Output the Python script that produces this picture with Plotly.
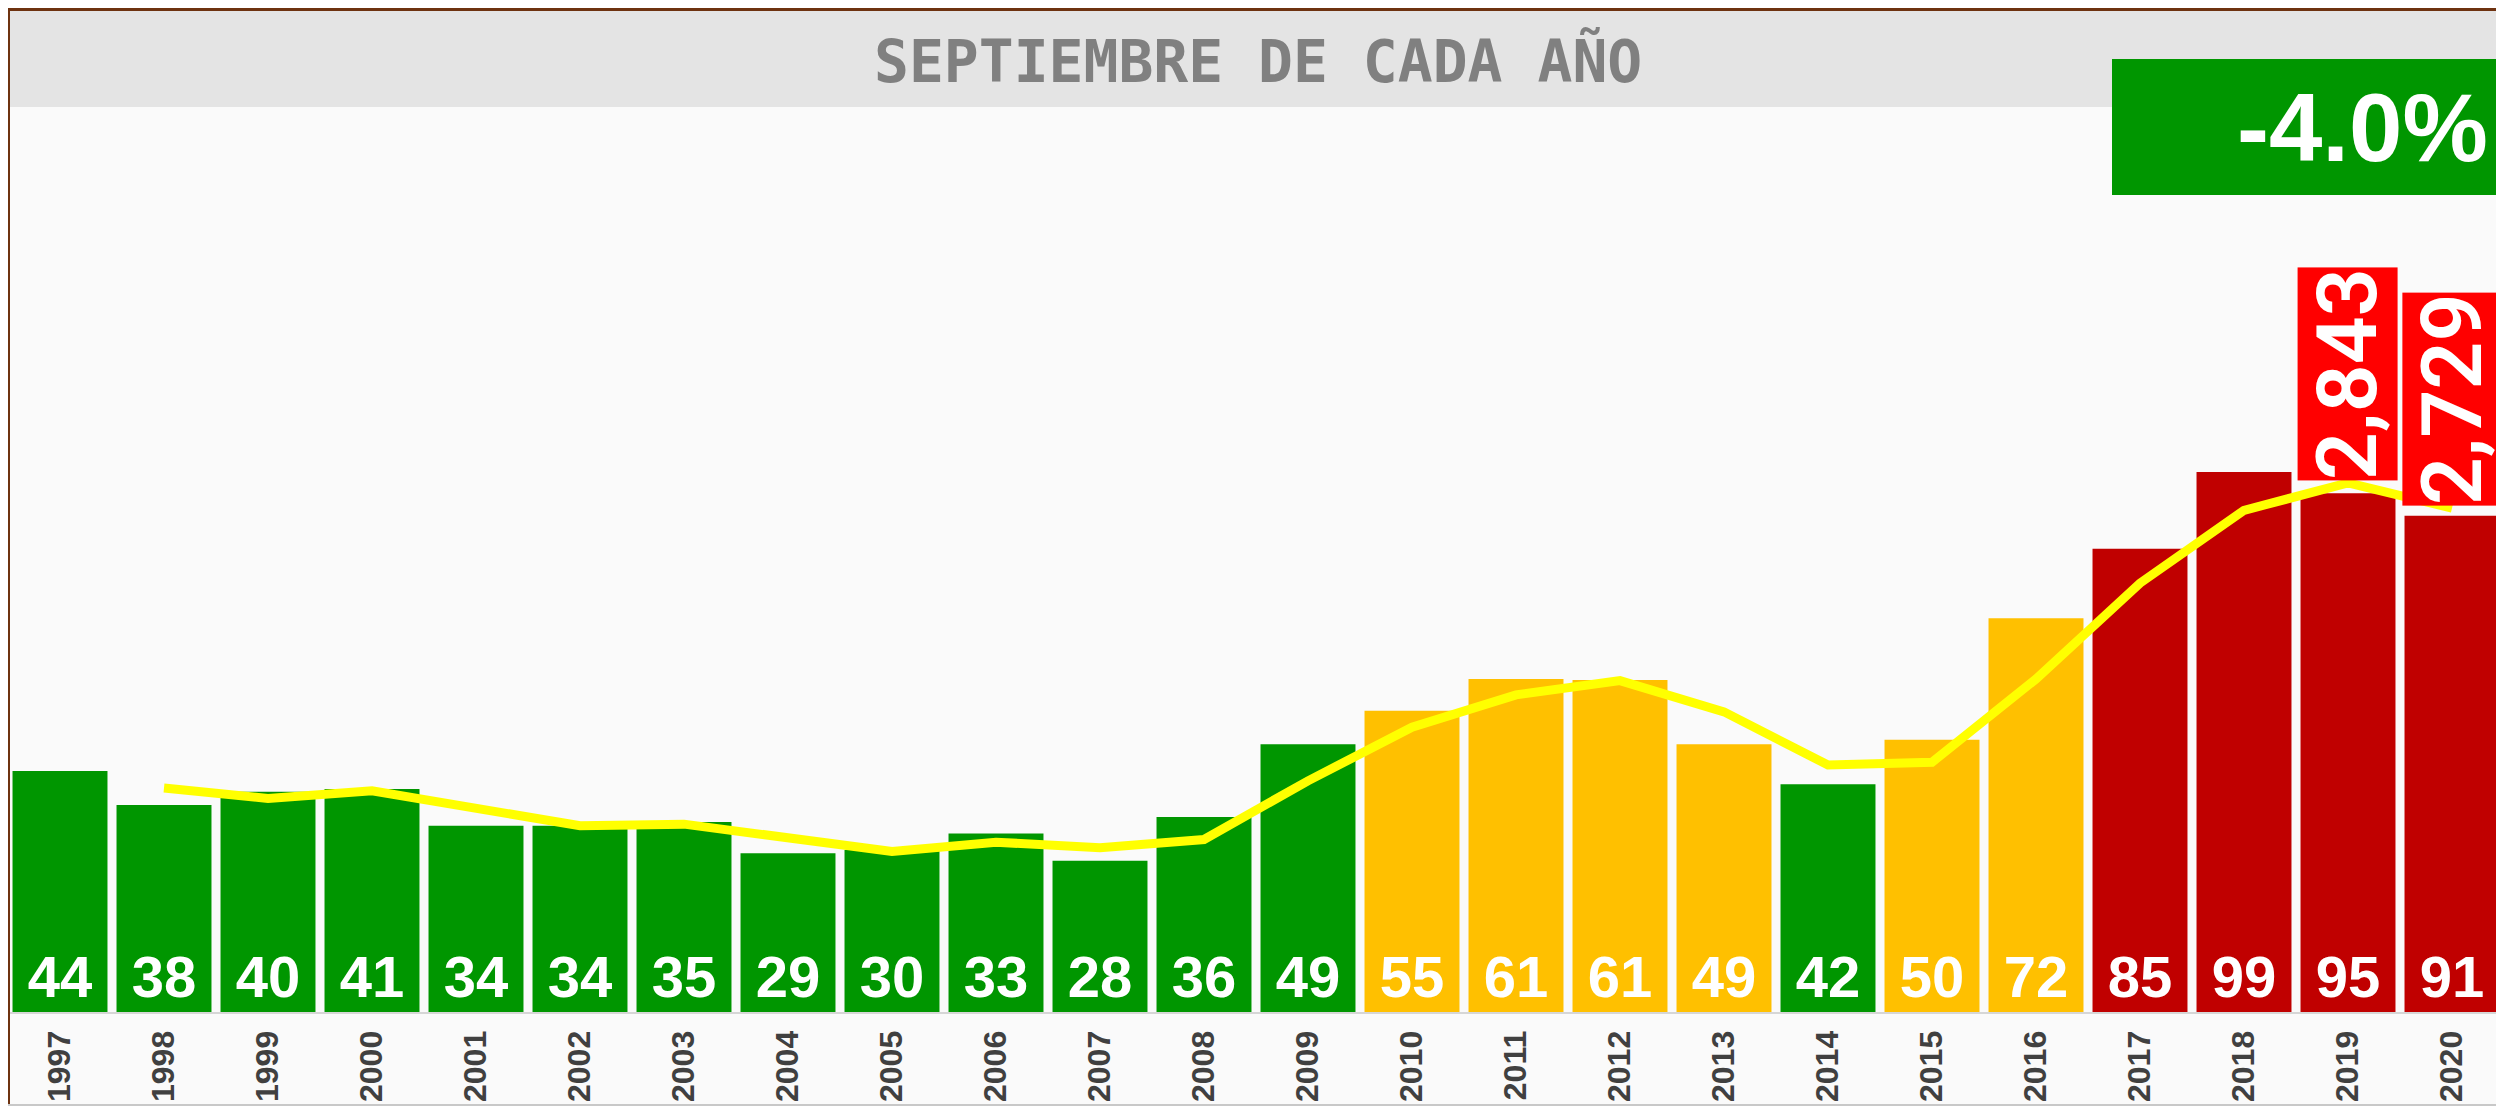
import plotly.graph_objects as go

years = [str(y) for y in range(1997, 2021)]
bar_values = [44.0, 37.8, 40.2, 40.7, 34.0, 34.0, 34.7, 29.0, 29.6, 32.6, 27.6, 35.6,
              48.9, 55.0, 60.8, 60.6, 48.9, 41.6, 49.7, 71.9, 84.6, 98.6, 94.7, 90.6]
bar_colors = ["#009600"] * 13 + ["#FFC000"] * 4 + ["#009600"] + ["#FFC000"] * 2 + ["#C00000"] * 4
line_years = years[1:]
line_values = [40.9, 39.0, 40.4, 37.3, 34.0, 34.3, 31.9, 29.3, 31.0, 30.0, 31.5, 42.2,
               52.0, 57.9, 60.5, 54.8, 45.1, 45.6, 60.8, 78.3, 91.6, 96.6, 92.0]
total_years = ["2019", "2020"]
total_values = [2843, 2729]
title_text = "SEPTIEMBRE DE CADA AÑO"

change = (total_values[1] / total_values[0] - 1) * 100

# page body has an 8px margin: figure origin sits at (8, 8) of the window
OFF = 8
W, H = 2504 - OFF, 1106 - OFF
ml, mr, mt, mb = 0, 0, 107 - OFF, 94
pw, ph = W - ml - mr, H - mt - mb

def px_x(x):  # x in window pixels
    return (x - OFF - ml) / pw

def px_y(y):  # y in window pixels
    return (H - mb - (y - OFF)) / ph

fig = go.Figure()
fig.add_trace(go.Bar(
    x=years, y=bar_values, marker=dict(color=bar_colors, line=dict(width=0)),
    texttemplate="%{y:.0f}", textposition="inside", insidetextanchor="start",
    textangle=0,
    textfont=dict(family="Liberation Sans, Arial, sans-serif", size=58, color="white", weight="bold"),
    hoverinfo="skip", showlegend=False,
))
fig.add_trace(go.Scatter(
    x=line_years, y=line_values, mode="lines",
    line=dict(color="#FFFF00", width=9), hoverinfo="skip", showlegend=False,
))

line_map = dict(zip(line_years, line_values))
for yr, tv in zip(total_years, total_values):
    fig.add_annotation(
        x=years.index(yr), y=line_map[yr], xref="x", yref="y", yanchor="bottom", xanchor="center",
        text=f"{tv:,}", textangle=-90, showarrow=False, bgcolor="#FF0000",
        font=dict(family="Roboto, sans-serif", size=84, color="white", weight=600),
        borderpad=0, yshift=2,
    )

shapes = [
    dict(type="rect", xref="paper", yref="paper", x0=px_x(8), x1=px_x(2530),
         y0=px_y(107), y1=px_y(11), fillcolor="#E4E4E4", line=dict(width=0), layer="below"),
    dict(type="rect", xref="paper", yref="paper", x0=px_x(2112), x1=px_x(2530),
         y0=px_y(195), y1=px_y(59), fillcolor="#009600", line=dict(width=0)),
    dict(type="line", xref="paper", yref="paper", x0=px_x(6), x1=px_x(2530),
         y0=px_y(9), y1=px_y(9), line=dict(color="#6E3210", width=4)),
    dict(type="line", xref="paper", yref="paper", x0=px_x(8), x1=px_x(8),
         y0=px_y(7), y1=px_y(1130), line=dict(color="#6E3210", width=4)),
    dict(type="line", xref="paper", yref="paper", x0=px_x(8), x1=px_x(2530),
         y0=px_y(1105), y1=px_y(1105), line=dict(color="#C8C8C8", width=2)),
]

fig.add_annotation(
    x=px_x(1258), y=px_y(61), xref="paper", yref="paper", xanchor="center", yanchor="middle",
    text=f"<b>{title_text}</b>", showarrow=False,
    font=dict(family="DejaVu Sans Mono, monospace", size=58, color="#808080"),
)
fig.add_annotation(
    x=px_x(2490), y=px_y(128), xref="paper", yref="paper", xanchor="right", yanchor="middle",
    text=f"<b>{change:.1f}%</b>", showarrow=False,
    font=dict(family="Liberation Sans, Arial, sans-serif", size=96, color="white"),
)

fig.update_layout(
    width=W, height=H,
    margin=dict(l=ml, r=mr, t=mt, b=mb, pad=0),
    paper_bgcolor="#FAFAFA", plot_bgcolor="#FAFAFA",
    bargap=0.087,
    shapes=shapes,
    xaxis=dict(type="category", range=[-0.5, len(years) - 0.5], autorange=False,
               showgrid=False, showline=True, linecolor="#D6D6D6", linewidth=2,
               tickangle=-90, ticks="", ticklabelstandoff=4,
               tickfont=dict(family="Liberation Sans, Arial, sans-serif", size=32, color="#404040", weight="bold"),
               fixedrange=True),
    yaxis=dict(range=[0, (H - mt - mb) / 5.477], autorange=False, showgrid=False, zeroline=False,
               showticklabels=False, showline=False, fixedrange=True),
)

fig.write_html("out.html")
